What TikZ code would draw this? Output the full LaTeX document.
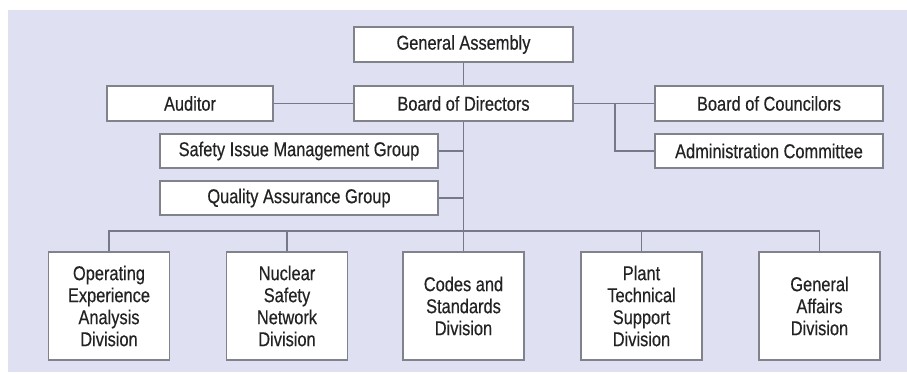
\documentclass[tikz,border=0pt]{standalone}
\usepackage{fontspec}
\setmainfont[FakeStretch=0.82,FakeBold=0.4]{Liberation Sans}
\usetikzlibrary{positioning}
\definecolor{bgcol}{RGB}{223,225,242}
\definecolor{boxline}{RGB}{128,130,140}
\definecolor{conn}{RGB}{118,122,136}
\definecolor{txt}{RGB}{35,35,38}
\tikzset{
  unit/.style={draw=boxline, line width=1.1pt, fill=white, text=txt,
    font=\fontsize{20}{22}\selectfont, inner sep=0pt, align=center},
  division/.style={unit, minimum width=121pt, minimum height=108pt},
  link/.style={draw=conn, line width=1.3pt}
}
\begin{document}
\begin{tikzpicture}[x=1pt,y=-1pt]
\useasboundingbox (0,0) rectangle (907,374);
\fill [bgcol] (8,10) rectangle (907,372);
% top part
\node [unit, minimum width=219pt, minimum height=35pt] (ga) at (463.5,44.5) {General Assembly};
\node [unit, minimum width=219pt, minimum height=35pt] (bod) at (463.5,103.5) {Board of Directors};
\node [unit, minimum width=166pt, minimum height=35pt] (aud) at (190,103.5) {Auditor};
\node [unit, minimum width=278pt, minimum height=34pt] (sim) at (299,151) {Safety Issue Management Group};
\node [unit, minimum width=278pt, minimum height=34pt] (qag) at (299,198) {Quality Assurance Group};
\node [unit, minimum width=228pt, minimum height=35pt] (boc) at (769,103.5) {Board of Councilors};
\node [unit, minimum width=228pt, minimum height=34pt] (adm) at (769,151) {Administration Committee};
% divisions
\node [division] (oea) at (109,306) {Operating\\Experience\\Analysis\\Division};
\node [division] (nsn) at (287,306) {Nuclear\\Safety\\Network\\Division};
\node [division] (csd) at (463.5,306) {Codes and\\Standards\\Division};
\node [division] (pts) at (641.5,306) {Plant\\Technical\\Support\\Division};
\node [division] (gad) at (819.5,306) {General\\Affairs\\Division};
\coordinate (bus) at (463.5,231);
\coordinate (fork) at (615,103.5);
% connectors
\draw [link] (ga) -- (bod);
\draw [link] (aud) -- (bod);
\draw [link] (bod) -- (boc);
\draw [link] (fork) |- (adm.west);
\draw [link] (bod.south) -- (csd.north);
\draw [link] (sim.east) -- (sim.east -| bod.south);
\draw [link] (qag.east) -- (qag.east -| bod.south);
\draw [link] (oea.north) |- (bus) -| (gad.north);
\draw [link] (nsn.north) -- (nsn.north |- bus);
\draw [link] (pts.north) -- (pts.north |- bus);
\end{tikzpicture}
\end{document}
